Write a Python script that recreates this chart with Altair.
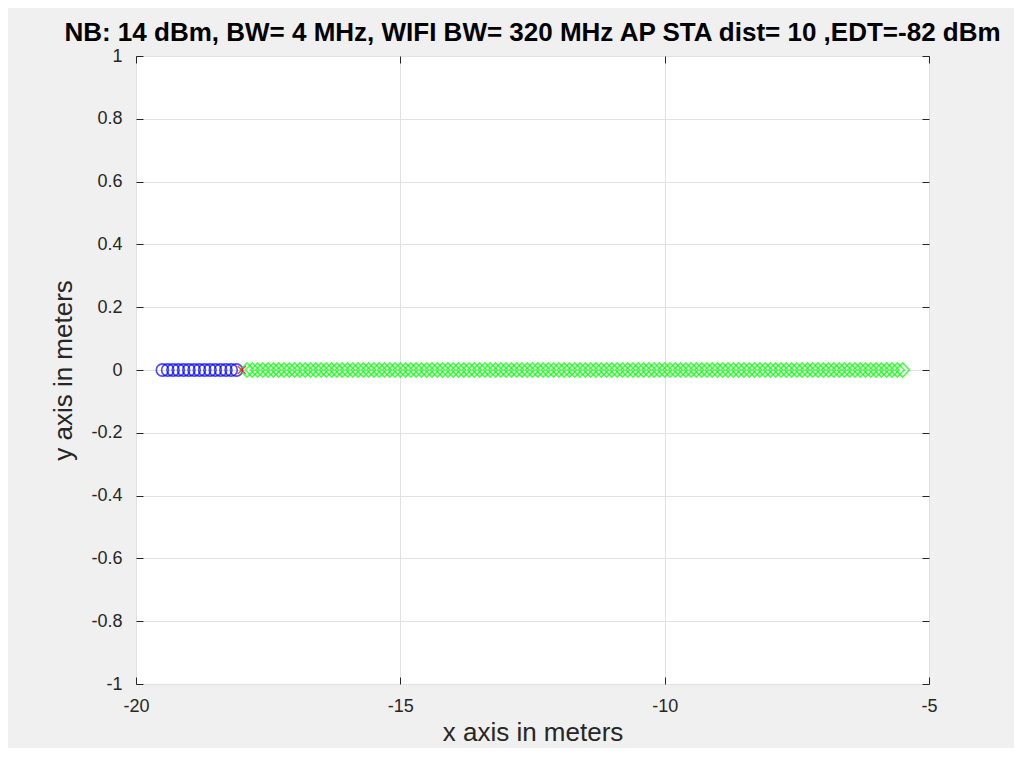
import altair as alt
import pandas as pd

# ---- data ----
blue_x = [-19.5, -19.4, -19.3, -19.2, -19.1, -19.0, -18.9, -18.8, -18.7, -18.6,
          -18.5, -18.4, -18.3, -18.2, -18.1]
blue_y = [0.0] * len(blue_x)

red_x = [-18.0]
red_y = [0.0]

green_x = [-17.9, -17.8, -17.7, -17.6, -17.5, -17.4, -17.3, -17.2, -17.1, -17.0,
           -16.9, -16.8, -16.7, -16.6, -16.5, -16.4, -16.3, -16.2, -16.1, -16.0,
           -15.9, -15.8, -15.7, -15.6, -15.5, -15.4, -15.3, -15.2, -15.1, -15.0,
           -14.9, -14.8, -14.7, -14.6, -14.5, -14.4, -14.3, -14.2, -14.1, -14.0,
           -13.9, -13.8, -13.7, -13.6, -13.5, -13.4, -13.3, -13.2, -13.1, -13.0,
           -12.9, -12.8, -12.7, -12.6, -12.5, -12.4, -12.3, -12.2, -12.1, -12.0,
           -11.9, -11.8, -11.7, -11.6, -11.5, -11.4, -11.3, -11.2, -11.1, -11.0,
           -10.9, -10.8, -10.7, -10.6, -10.5, -10.4, -10.3, -10.2, -10.1, -10.0,
           -9.9, -9.8, -9.7, -9.6, -9.5, -9.4, -9.3, -9.2, -9.1, -9.0,
           -8.9, -8.8, -8.7, -8.6, -8.5, -8.4, -8.3, -8.2, -8.1, -8.0,
           -7.9, -7.8, -7.7, -7.6, -7.5, -7.4, -7.3, -7.2, -7.1, -7.0,
           -6.9, -6.8, -6.7, -6.6, -6.5, -6.4, -6.3, -6.2, -6.1, -6.0,
           -5.9, -5.8, -5.7, -5.6, -5.5]
green_y = [0.0] * len(green_x)

x_ticks = [-20, -15, -10, -5]
y_ticks = [-1, -0.8, -0.6, -0.4, -0.2, 0, 0.2, 0.4, 0.6, 0.8, 1]

title_text = "NB: 14 dBm, BW= 4 MHz, WIFI BW= 320 MHz AP STA dist= 10 ,EDT=-82 dBm"
x_title = "x axis in meters"
y_title = "y axis in meters"

blue_df = pd.DataFrame({"x": blue_x, "y": blue_y})
green_df = pd.DataFrame({"x": green_x, "y": green_y})
red_df = pd.DataFrame({"x": red_x, "y": red_y})

FONT = "Liberation Sans"
AX = "#262626"
GRID = "#e2e2e2"
TICK = 7
LBL = "'' + datum.value"

xscale = alt.Scale(domain=[-20, -5], nice=False, zero=False)
yscale = alt.Scale(domain=[-1, 1], nice=False, zero=False)

x_main = alt.Axis(orient="bottom", values=x_ticks, grid=True, gridColor=GRID,
                  domain=False, tickSize=TICK, offset=-TICK, tickColor=AX,
                  labelColor=AX, labelFontSize=18, labelFont=FONT, labelPadding=13,
                  labelExpr=LBL,
                  title=x_title, titleFont=FONT, titleFontSize=26,
                  titleFontWeight="normal", titleColor=AX, titlePadding=4,
                  labelFlush=False)
y_main = alt.Axis(orient="left", values=y_ticks, grid=True, gridColor=GRID,
                  domain=False, tickSize=TICK, offset=-TICK, tickColor=AX,
                  labelColor=AX, labelFontSize=18, labelFont=FONT, labelPadding=14,
                  labelExpr=LBL,
                  title=y_title, titleFont=FONT, titleFontSize=26,
                  titleFontWeight="normal", titleColor=AX, titlePadding=14,
                  labelFlush=False)
x_top = alt.Axis(orient="top", values=x_ticks, grid=False, domain=False,
                 tickSize=TICK, offset=-TICK, tickColor=AX, labels=False, title=None)
y_right = alt.Axis(orient="right", values=y_ticks, grid=False, domain=False,
                   tickSize=TICK, offset=-TICK, tickColor=AX, labels=False, title=None)

blue = alt.Chart(blue_df).mark_point(
    shape="circle", filled=False, size=150, color="#0000ff", strokeWidth=1.6
).encode(
    x=alt.X("x:Q", scale=xscale, axis=x_main),
    y=alt.Y("y:Q", scale=yscale, axis=y_main),
)

green = alt.Chart(green_df).mark_point(
    shape="diamond", filled=False, size=200, color="#00ff00", strokeWidth=1.6
).encode(
    x=alt.X("x:Q", scale=xscale, axis=x_top),
    y=alt.Y("y:Q", scale=yscale, axis=y_right),
)

red = alt.Chart(red_df).mark_point(
    shape="M-1,-1L1,1M-1,1L1,-1", filled=False, size=64, color="#ff0000", strokeWidth=1.6
).encode(
    x=alt.X("x:Q", scale=xscale, axis=None),
    y=alt.Y("y:Q", scale=yscale, axis=None),
)

chart = alt.layer(blue, green, red).resolve_axis(
    x="independent", y="independent"
).properties(
    width=793,
    height=628,
    autosize=alt.AutoSizeParams(type="none"),
    padding={"left": 128, "top": 48, "right": 85, "bottom": 64},
    background="#f0f0f0",
    title=alt.TitleParams(title_text, font=FONT, fontSize=26, fontWeight="bold",
                          color="#000000", anchor="middle", offset=1),
).configure_view(
    stroke=AX, strokeWidth=1, fill="#ffffff"
)

chart.save("out.html", embed_options={"renderer": "svg", "actions": False})
